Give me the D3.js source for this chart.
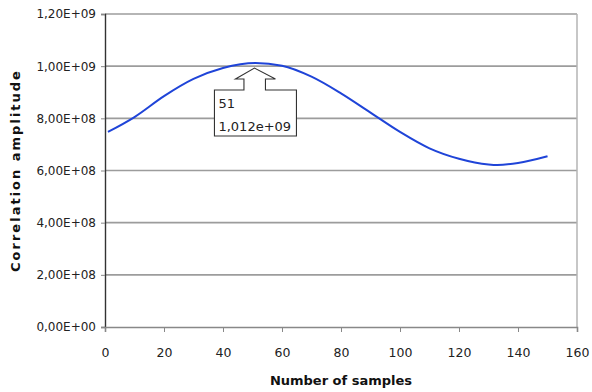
<!DOCTYPE html>
<html>
<head>
<meta charset="utf-8">
<script src="https://cdn.jsdelivr.net/npm/d3@7"></script>
<style>
  html, body { margin: 0; padding: 0; background: #fff; }
  svg { display: block; font-family: "DejaVu Sans", Verdana, sans-serif; }
</style>
</head>
<body>
<svg id="chart" width="592" height="392"></svg>
<script>
// Correlation amplitude against number of samples
const samples   = [1, 10, 20, 30, 40, 51, 60, 70, 80, 90, 100, 110, 120, 130, 133, 140, 150];
const amplitude = [7.48e8, 8.05e8, 8.85e8, 9.51e8, 9.93e8, 1.012e9, 1.002e9, 9.60e8, 8.96e8,
                   8.22e8, 7.48e8, 6.85e8, 6.45e8, 6.23e8, 6.21e8, 6.29e8, 6.55e8];
const xTicks = [0, 20, 40, 60, 80, 100, 120, 140, 160];
const yTicks = [0, 2e8, 4e8, 6e8, 8e8, 1e9, 1.2e9];
const peakSample = 51;
const peakValue = 1.012e9;

const svg = d3.select("#chart");
const plot = { left: 105, right: 577, top: 14, bottom: 327 };

const x = d3.scaleLinear().domain([0, 160]).range([plot.left, plot.right]);
const y = d3.scaleLinear().domain([0, 1.2e9]).range([plot.bottom, plot.top]);

// Excel-style scientific label, e.g. 1,20E+09
function sci(v) {
  const [m, e] = v.toExponential(2).split("e");
  const ev = parseInt(e, 10);
  const es = (ev < 0 ? "-" : "+") + String(Math.abs(ev)).padStart(2, "0");
  return m.replace(".", ",") + "E" + es;
}

// horizontal gridlines
svg.append("g")
  .selectAll("line")
  .data(yTicks.filter(d => d > 0))
  .join("line")
  .attr("x1", plot.left).attr("x2", plot.right)
  .attr("y1", d => y(d)).attr("y2", d => y(d))
  .attr("stroke", "#9c9c9c").attr("stroke-width", 1.6);

// right border of the plot area
svg.append("line")
  .attr("x1", plot.right).attr("x2", plot.right)
  .attr("y1", plot.top).attr("y2", plot.bottom)
  .attr("stroke", "#b4b4b4").attr("stroke-width", 1.5);

// y axis
const yAxis = d3.axisLeft(y).tickValues(yTicks).tickFormat(sci).tickSize(4).tickPadding(5);
const gy = svg.append("g").attr("transform", `translate(${plot.left},0)`).call(yAxis);
gy.select(".domain").attr("stroke", "#333").attr("stroke-width", 1.4);
gy.selectAll(".tick line").attr("stroke", "#888");
gy.selectAll("text").attr("font-size", 12).attr("fill", "#222")
  .attr("font-family", "DejaVu Sans, sans-serif");

// x axis
const xAxis = d3.axisBottom(x).tickValues(xTicks).tickFormat(d3.format("d")).tickSize(5).tickPadding(16);
const gx = svg.append("g").attr("transform", `translate(0,${plot.bottom})`).call(xAxis);
gx.select(".domain").attr("stroke", "#888").attr("stroke-width", 1.6);
gx.selectAll(".tick line").attr("stroke", "#888");
gx.selectAll("text").attr("font-size", 12.5).attr("fill", "#222")
  .attr("font-family", "DejaVu Sans, sans-serif");

// axis titles
svg.append("text")
  .attr("x", (plot.left + plot.right) / 2).attr("y", 385)
  .attr("text-anchor", "middle")
  .attr("font-size", 13).attr("font-weight", "bold").attr("fill", "#111")
  .text("Number of samples");

svg.append("text")
  .attr("transform", `translate(20,${(plot.top + plot.bottom) / 2}) rotate(-90)`)
  .attr("text-anchor", "middle")
  .attr("font-size", 13).attr("font-weight", "bold").attr("fill", "#111")
  .attr("letter-spacing", 2)
  .text("Correlation amplitude");

// the correlation curve
const pts = samples.map((s, i) => [s, amplitude[i]]);
svg.append("path")
  .datum(pts)
  .attr("fill", "none")
  .attr("stroke", "#1f44d8")
  .attr("stroke-width", 2)
  .attr("d", d3.line().x(d => x(d[0])).y(d => y(d[1])).curve(d3.curveMonotoneX));

// callout marking the maximum
const tipX = x(peakSample) - 1;
const tipY = y(peakValue) + 5;
const boxL = tipX - 40, boxR = tipX + 42, boxT = tipY + 22, boxB = tipY + 68;
const headY = tipY + 11;
const callout = [
  [boxL, boxB], [boxL, boxT], [tipX - 10.5, boxT], [tipX - 10.5, headY], [tipX - 19, headY],
  [tipX, tipY], [tipX + 21, headY], [tipX + 11, headY], [tipX + 11, boxT], [boxR, boxT], [boxR, boxB]
];
svg.append("path")
  .attr("d", d3.line()(callout) + "Z")
  .attr("fill", "#fff").attr("stroke", "#333").attr("stroke-width", 1.1);

const fmtPeak = v => v.toExponential(3).replace(".", ",").replace(/e\+(\d)$/, "e+0$1");
svg.append("text")
  .attr("x", boxL + 4).attr("y", tipY + 40)
  .attr("font-size", 13).attr("fill", "#222")
  .text(String(peakSample));
svg.append("text")
  .attr("x", boxL + 4).attr("y", tipY + 62.5)
  .attr("font-size", 13).attr("fill", "#222")
  .text(fmtPeak(peakValue));
</script>
</body>
</html>
